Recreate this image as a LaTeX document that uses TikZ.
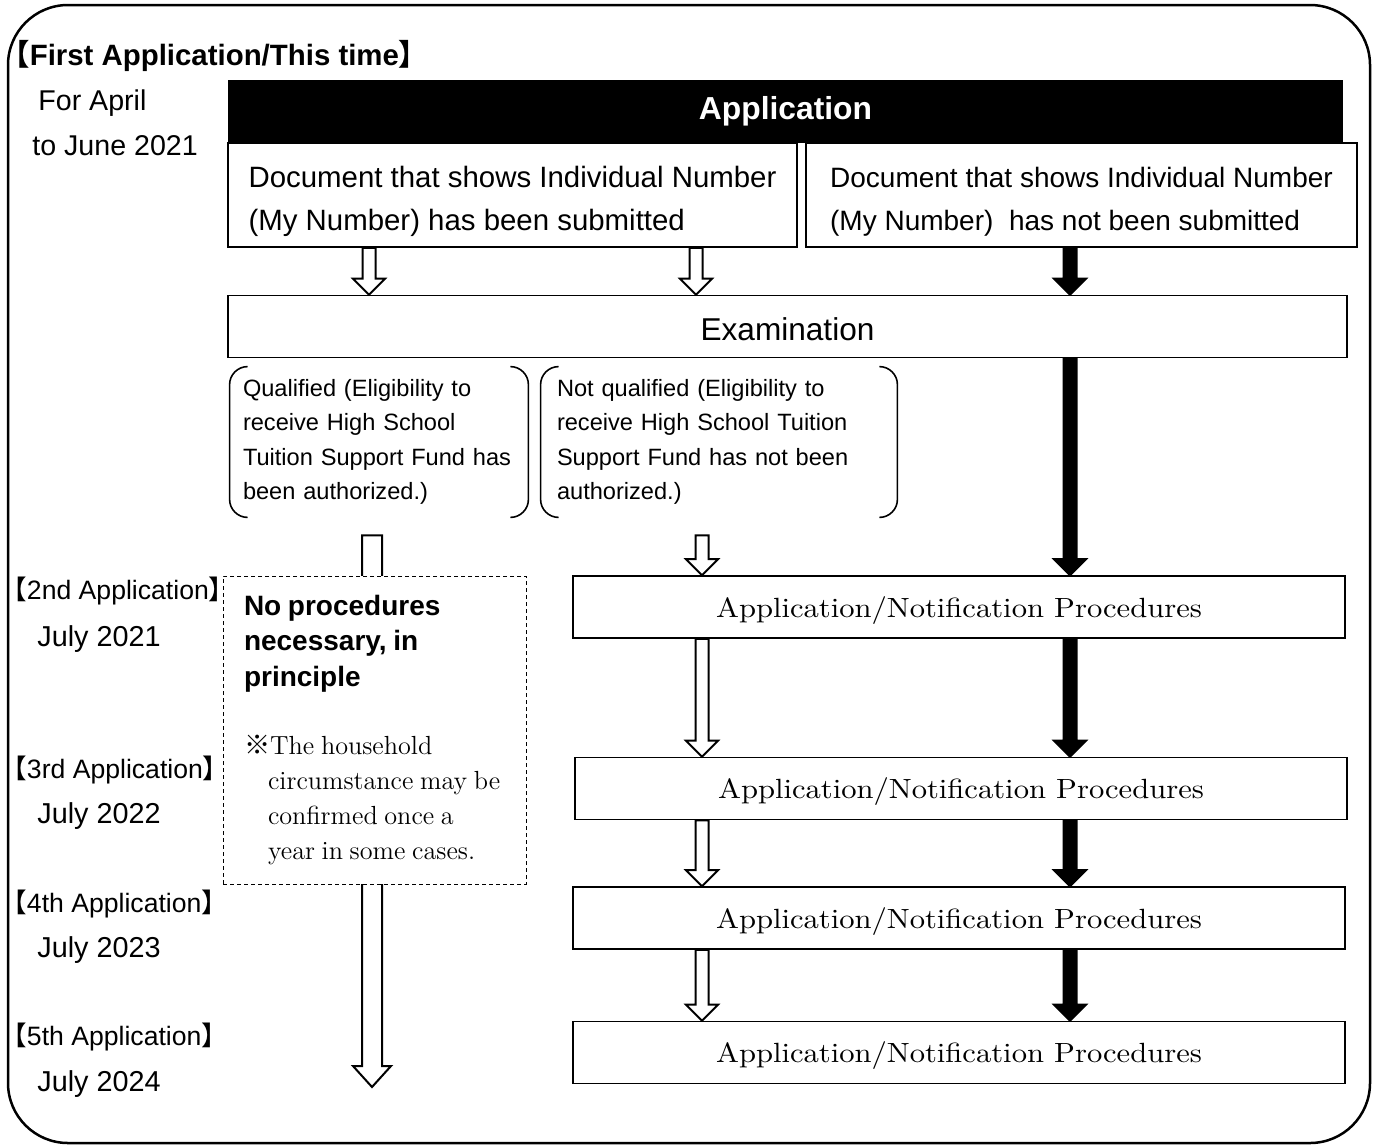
\documentclass[tikz,border=0pt]{standalone}
\usepackage{fontspec}
\newfontfamily\arial{Liberation Sans}
\newfontfamily\cjk{Noto Sans CJK JP}
\newfontfamily\widerm[FakeStretch=1.1]{lmroman10-regular.otf}
\usetikzlibrary{calc}
\newcommand\lbrk{{\cjk 【}}
\newcommand\rbrk{{\cjk 】}}
\tikzset{
  blockarrow/.style n args={3}{to path={let \p1=(\tikztostart), \p2=(\tikztotarget) in
    (\x1-#1,\y1) -- (\x1-#1,\y2+#3) -- (\x1-#2,\y2+#3) -- (\x1,\y2) -- (\x1+#2,\y2+#3) -- (\x1+#1,\y2+#3) -- (\x1+#1,\y1) -- cycle}},
  whitearr/.style={draw=black, fill=white, line width=1pt, blockarrow={3.25pt}{8pt}{8pt}},
  blackarr/.style={draw=black, fill=black, line width=1pt, blockarrow={3.25pt}{8pt}{8pt}},
  longarr/.style={draw=black, fill=white, line width=1pt, blockarrow={5pt}{9.5pt}{10.5pt}},
  plainbox/.style={draw=black, line width=0.8pt, inner sep=0pt},
  procbox/.style={plainbox, minimum width=386pt, minimum height=31pt, text height=11pt, text depth=1pt, font=\widerm\fontsize{13.9}{17}\selectfont},
  docbox/.style={plainbox, align=left, minimum height=52pt, text height=36pt, text depth=1pt},
  lbl/.style={anchor=base west, inner sep=0pt},
  parenline/.style={rounded corners=9pt, line width=0.8pt},
}
\begin{document}
\begin{tikzpicture}[x=0.5pt, y=-0.5pt]
\useasboundingbox (0,0) rectangle (1375,1146);
\draw[line width=1.25pt, rounded corners=30pt] (8,5) rectangle (1370,1143);
% time labels on the left
\node[lbl, font=\arial\bfseries\fontsize{14.7}{17}\selectfont] (head) at (0,65) {\lbrk First Application/This time\rbrk};
\node[lbl, font=\arial\fontsize{14.3}{17}\selectfont] (t0a) at (38,110) {For April};
\node[lbl, font=\arial\fontsize{14.3}{17}\selectfont] (t0b) at (32,155) {to June 2021};
\node[lbl, font=\arial\fontsize{13.3}{16}\selectfont] (a2) at (0,599) {\lbrk 2nd Application\rbrk};
\node[lbl, font=\arial\fontsize{14.4}{17}\selectfont] (t2) at (37,646) {July 2021};
\node[lbl, font=\arial\fontsize{13.3}{16}\selectfont] (a3) at (0,778) {\lbrk 3rd Application\rbrk};
\node[lbl, font=\arial\fontsize{14.4}{17}\selectfont] (t3) at (37,823) {July 2022};
\node[lbl, font=\arial\fontsize{13.3}{16}\selectfont] (a4) at (0,912) {\lbrk 4th Application\rbrk};
\node[lbl, font=\arial\fontsize{14.4}{17}\selectfont] (t4) at (37,957) {July 2023};
\node[lbl, font=\arial\fontsize{13.3}{16}\selectfont] (a5) at (0,1045) {\lbrk 5th Application\rbrk};
\node[lbl, font=\arial\fontsize{14.4}{17}\selectfont] (t5) at (37,1091) {July 2024};
% first application
\node[fill=black, text=white, inner sep=0pt, minimum width=557.5pt, minimum height=31.5pt, font=\arial\bfseries\fontsize{15.9}{19}\selectfont] (app) at (785.5,111.5) {Application};
\node[docbox, minimum width=284.5pt, font=\arial\fontsize{14.7}{21.5}\selectfont] (docL) at (512.5,195) {Document that shows Individual Number\\(My Number) has been submitted};
\node[docbox, minimum width=275.5pt, font=\arial\fontsize{14}{21.5}\selectfont] (docR) at (1081.5,195) {Document that shows Individual Number\\(My Number)~ has not been submitted};
\node[plainbox, minimum width=559.5pt, minimum height=31pt, text height=14pt, text depth=0.5pt, font=\arial\fontsize{15.8}{19}\selectfont] (exam) at (787.5,326.5) {Examination};
\node[align=left, text width=136pt, inner xsep=6.5pt, inner ysep=0pt, minimum height=75pt, font=\arial\fontsize{11.8}{17.2}\selectfont] (qual) at (379,442) {Qualified (Eligibility to\\receive High School\\Tuition Support Fund has\\been authorized.)};
\node[align=left, text width=162pt, inner xsep=8pt, inner ysep=0pt, minimum height=75pt, font=\arial\fontsize{11.8}{17.2}\selectfont] (notq) at (719,442) {Not qualified (Eligibility to\\receive High School Tuition\\Support Fund has not been\\authorized.)};
\draw[parenline] ($(qual.north west)+(18,0)$) -- (qual.north west) -- (qual.south west) -- ($(qual.south west)+(18,0)$);
\draw[parenline] ($(qual.north east)+(-18,0)$) -- (qual.north east) -- (qual.south east) -- ($(qual.south east)+(-18,0)$);
\draw[parenline] ($(notq.north west)+(18,0)$) -- (notq.north west) -- (notq.south west) -- ($(notq.south west)+(18,0)$);
\draw[parenline] ($(notq.north east)+(-18,0)$) -- (notq.north east) -- (notq.south east) -- ($(notq.south east)+(-18,0)$);
% later applications
\node[procbox] (proc1) at (959,607) {Application/Notification Procedures};
\node[procbox] (proc2) at (961,788.5) {Application/Notification Procedures};
\node[procbox] (proc3) at (959,918) {Application/Notification Procedures};
\node[procbox] (proc4) at (959,1052.5) {Application/Notification Procedures};
% arrow columns
\coordinate (colA) at (369,0);
\coordinate (colB) at (696,0);
\coordinate (colC) at (1070,0);
\coordinate (colD) at (372,0);
\coordinate (colE) at (702,0);
\coordinate (qend) at (372,1087);
\draw[whitearr] (docL.south -| colA) to (exam.north -| colA);
\draw[whitearr] (docL.south -| colB) to (exam.north -| colB);
\draw[blackarr] (docR.south -| colC) to (exam.north -| colC);
\draw[blackarr] (exam.south -| colC) to (proc1.north -| colC);
\draw[blackarr] (proc1.south -| colC) to (proc2.north -| colC);
\draw[blackarr] (proc2.south -| colC) to (proc3.north -| colC);
\draw[blackarr] (proc3.south -| colC) to (proc4.north -| colC);
\draw[whitearr] ($(notq.south -| colE)+(0,18)$) to (proc1.north -| colE);
\draw[whitearr] (proc1.south -| colE) to (proc2.north -| colE);
\draw[whitearr] (proc2.south -| colE) to (proc3.north -| colE);
\draw[whitearr] (proc3.south -| colE) to (proc4.north -| colE);
\draw[longarr] ($(qual.south -| colD)+(0,18)$) to (qend);
% note box over the long arrow
\node[plainbox, line width=0.5pt, dash pattern=on 2pt off 1.5pt, fill=white, align=left, text width=130.5pt, inner xsep=10.5pt, minimum height=154pt] (nop) at (374.5,730) {{\arial\bfseries\fontsize{14}{17.75}\selectfont No procedures\\necessary, in\\principle\par}\vspace{16.5pt}{\fontsize{13.1}{17.5}\selectfont {\cjk ※}The household\\\hspace*{12pt}circumstance may be\\\hspace*{12pt}confirmed once a\\\hspace*{12pt}year in some cases.\par}};
\end{tikzpicture}
\end{document}
